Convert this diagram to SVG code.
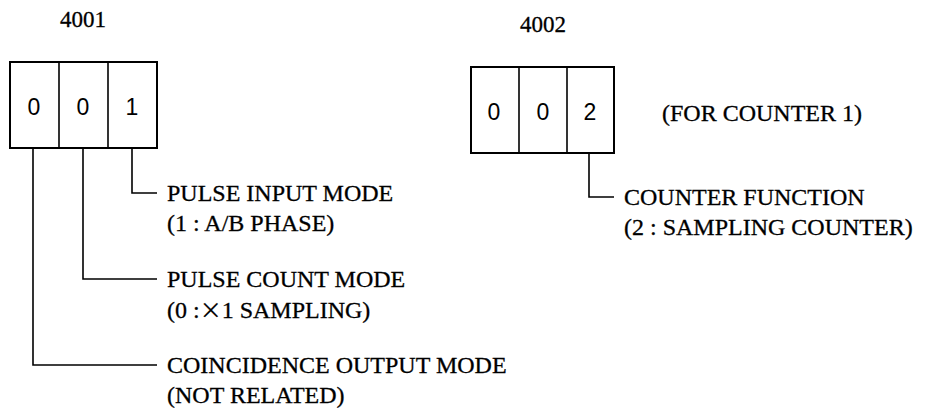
<svg xmlns="http://www.w3.org/2000/svg" width="938" height="415" viewBox="0 0 938 415">
<style>
.box{fill:none;stroke:#000;stroke-width:2}
.div{stroke:#000;stroke-width:1.6}
.conn{fill:none;stroke:#000;stroke-width:1.6}
.lbl{font-family:"Liberation Serif","Times New Roman",serif;font-size:24px;fill:#000;stroke:#000;stroke-width:0.3}
.dig{font-family:"Liberation Sans",Arial,sans-serif;font-size:23px;fill:#000;text-anchor:middle}
.ttl{font-family:"Liberation Serif","Times New Roman",serif;font-size:23px;fill:#000;stroke:#000;stroke-width:0.3}
.x{font-family:"Noto Sans CJK JP",sans-serif;font-size:22px;stroke-width:0.2}
</style>
<rect width="938" height="415" fill="#fff"/>
<g id="reg4001">
<text class="ttl" x="60" y="27">4001</text>
<rect class="box" x="10" y="62" width="147" height="86"/>
<line class="div" x1="59" y1="62" x2="59" y2="148"/>
<line class="div" x1="108" y1="62" x2="108" y2="148"/>
<text class="dig" x="34" y="115">0</text>
<text class="dig" x="83" y="115">0</text>
<text class="dig" x="132" y="115">1</text>
</g>
<g id="reg4002">
<text class="ttl" x="520" y="32">4002</text>
<rect class="box" x="471" y="67" width="143" height="86"/>
<line class="div" x1="519" y1="67" x2="519" y2="153"/>
<line class="div" x1="567" y1="67" x2="567" y2="153"/>
<text class="dig" x="494" y="120">0</text>
<text class="dig" x="543" y="120">0</text>
<text class="dig" x="590" y="120">2</text>
</g>
<g id="note">
<text class="lbl" x="662" y="121">(FOR COUNTER 1)</text>
</g>
<g id="connectors">
<polyline class="conn" points="132,148 132,193 157,193"/>
<polyline class="conn" points="83,148 83,279 157,279"/>
<polyline class="conn" points="33,148 33,365 157,365"/>
<polyline class="conn" points="589,153 589,197 614,197"/>
</g>
<g id="pulse-input">
<text class="lbl" x="167" y="201">PULSE INPUT MODE</text>
<text class="lbl" x="167" y="231">(1 : A/B PHASE)</text>
</g>
<g id="pulse-count">
<text class="lbl" x="167" y="287">PULSE COUNT MODE</text>
<text class="lbl" x="167" y="318">(0 :<tspan class="x">×</tspan>1 SAMPLING)</text>
</g>
<g id="coincidence">
<text class="lbl" x="167" y="373">COINCIDENCE OUTPUT MODE</text>
<text class="lbl" x="167" y="403">(NOT RELATED)</text>
</g>
<g id="counter-function">
<text class="lbl" x="624" y="205">COUNTER FUNCTION</text>
<text class="lbl" x="624" y="235">(2 : SAMPLING COUNTER)</text>
</g>
</svg>
